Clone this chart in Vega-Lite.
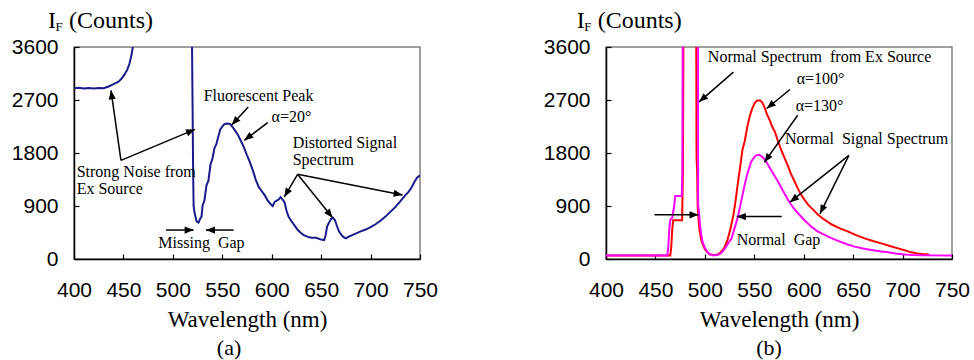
{
  "$schema": "https://vega.github.io/schema/vega-lite/v6.json",
  "padding": {"left": 10, "top": 8, "right": 0, "bottom": 0},
  "spacing": 103,
  "config": {
    "font": "Liberation Serif",
    "view": {"stroke": "#808080", "strokeWidth": 1.5},
    "axis": {
      "grid": false,
      "domainColor": "black",
      "domainWidth": 1.5,
      "tickColor": "black",
      "tickWidth": 1.2,
      "tickSize": -5,
      "labelFont": "Liberation Sans",
      "labelFontSize": 21,
      "labelColor": "black",
      "labelFlush": false,
      "labelOverlap": false,
      "titleFont": "Liberation Serif",
      "titleFontSize": 23,
      "titleFontWeight": "normal",
      "titleColor": "black"
    }
  },
  "datasets": {
    "specA": [
      {"x": 400, "y": 2900}, {"x": 405, "y": 2906}, {"x": 410, "y": 2894}, {"x": 415, "y": 2902}, {"x": 420, "y": 2896}, {"x": 425, "y": 2904}, {"x": 430, "y": 2900},
      {"x": 435, "y": 2930}, {"x": 440, "y": 2970}, {"x": 445, "y": 3010}, {"x": 448, "y": 3060}, {"x": 451, "y": 3130}, {"x": 454, "y": 3220},
      {"x": 456, "y": 3310}, {"x": 458, "y": 3450}, {"x": 459.5, "y": 3600}, {"x": 461, "y": 4300}, {"x": 518, "y": 4300},
      {"x": 519.4, "y": 3600}, {"x": 520, "y": 2500}, {"x": 520.5, "y": 1500}, {"x": 521, "y": 900}, {"x": 522, "y": 780},
      {"x": 524, "y": 640}, {"x": 526, "y": 620}, {"x": 527.5, "y": 680}, {"x": 529, "y": 720}, {"x": 530, "y": 900}, {"x": 532, "y": 1000},
      {"x": 534, "y": 1250}, {"x": 536, "y": 1330}, {"x": 538, "y": 1600}, {"x": 540, "y": 1700}, {"x": 542, "y": 1880}, {"x": 544, "y": 1950},
      {"x": 546, "y": 2080}, {"x": 548, "y": 2200}, {"x": 550, "y": 2250}, {"x": 552, "y": 2290}, {"x": 555, "y": 2300}, {"x": 558, "y": 2290},
      {"x": 560, "y": 2250}, {"x": 563, "y": 2180}, {"x": 566, "y": 2100}, {"x": 569, "y": 2000}, {"x": 572, "y": 1890}, {"x": 575, "y": 1760},
      {"x": 578, "y": 1640}, {"x": 581, "y": 1500}, {"x": 584, "y": 1340}, {"x": 587, "y": 1220}, {"x": 590, "y": 1150}, {"x": 593, "y": 1080},
      {"x": 596, "y": 990}, {"x": 599, "y": 930}, {"x": 601, "y": 900}, {"x": 603, "y": 970}, {"x": 605, "y": 990}, {"x": 607, "y": 1010},
      {"x": 609, "y": 1050}, {"x": 611, "y": 1010}, {"x": 613, "y": 960}, {"x": 615, "y": 820}, {"x": 617, "y": 720}, {"x": 620, "y": 640},
      {"x": 623, "y": 570}, {"x": 626, "y": 500}, {"x": 629, "y": 450}, {"x": 632, "y": 410}, {"x": 636, "y": 380}, {"x": 640, "y": 360},
      {"x": 645, "y": 360}, {"x": 650, "y": 330}, {"x": 653, "y": 320}, {"x": 654.5, "y": 400}, {"x": 656, "y": 550}, {"x": 658, "y": 620},
      {"x": 660, "y": 680}, {"x": 662, "y": 700}, {"x": 664, "y": 660}, {"x": 666, "y": 560}, {"x": 668, "y": 470}, {"x": 670, "y": 420},
      {"x": 672, "y": 380}, {"x": 675, "y": 350}, {"x": 678, "y": 380}, {"x": 682, "y": 410}, {"x": 686, "y": 440}, {"x": 690, "y": 470},
      {"x": 695, "y": 500}, {"x": 700, "y": 540}, {"x": 705, "y": 590}, {"x": 710, "y": 650}, {"x": 715, "y": 720}, {"x": 720, "y": 800},
      {"x": 725, "y": 880}, {"x": 730, "y": 980}, {"x": 735, "y": 1080}, {"x": 738, "y": 1130}, {"x": 741, "y": 1200}, {"x": 744, "y": 1300},
      {"x": 747, "y": 1380}, {"x": 750, "y": 1420}
    ],
    "specB": [
      {"s": "a100", "x": 400, "y": 60}, {"s": "a100", "x": 465, "y": 60}, {"s": "a100", "x": 466, "y": 200}, {"s": "a100", "x": 467, "y": 500},
      {"s": "a100", "x": 468, "y": 660}, {"s": "a100", "x": 477, "y": 660}, {"s": "a100", "x": 477.8, "y": 1500}, {"s": "a100", "x": 478.3, "y": 3600},
      {"s": "a100", "x": 478.8, "y": 9000}, {"s": "a100", "x": 491, "y": 9000}, {"s": "a100", "x": 491.3, "y": 3600}, {"s": "a100", "x": 491.6, "y": 1714},
      {"s": "a100", "x": 492.2, "y": 1500}, {"s": "a100", "x": 492.7, "y": 900}, {"s": "a100", "x": 493.5, "y": 700}, {"s": "a100", "x": 494.5, "y": 500},
      {"s": "a100", "x": 496, "y": 350}, {"s": "a100", "x": 498, "y": 240}, {"s": "a100", "x": 500, "y": 170}, {"s": "a100", "x": 502, "y": 120},
      {"s": "a100", "x": 505, "y": 80}, {"s": "a100", "x": 508, "y": 70}, {"s": "a100", "x": 511, "y": 70}, {"s": "a100", "x": 514, "y": 85},
      {"s": "a100", "x": 517, "y": 130}, {"s": "a100", "x": 520, "y": 200}, {"s": "a100", "x": 523, "y": 330}, {"s": "a100", "x": 526, "y": 520},
      {"s": "a100", "x": 529, "y": 760}, {"s": "a100", "x": 531, "y": 980}, {"s": "a100", "x": 533.5, "y": 1300}, {"s": "a100", "x": 536, "y": 1600},
      {"s": "a100", "x": 538, "y": 1850}, {"s": "a100", "x": 540.3, "y": 2000}, {"s": "a100", "x": 543, "y": 2250}, {"s": "a100", "x": 545, "y": 2400},
      {"s": "a100", "x": 547, "y": 2510}, {"s": "a100", "x": 549, "y": 2600}, {"s": "a100", "x": 551, "y": 2660}, {"s": "a100", "x": 553, "y": 2690},
      {"s": "a100", "x": 556, "y": 2690}, {"s": "a100", "x": 558, "y": 2660}, {"s": "a100", "x": 560.6, "y": 2566}, {"s": "a100", "x": 563, "y": 2450},
      {"s": "a100", "x": 566, "y": 2340}, {"s": "a100", "x": 568, "y": 2250}, {"s": "a100", "x": 570.6, "y": 2169}, {"s": "a100", "x": 574, "y": 2000},
      {"s": "a100", "x": 577, "y": 1860}, {"s": "a100", "x": 580.7, "y": 1714}, {"s": "a100", "x": 584, "y": 1580}, {"s": "a100", "x": 587, "y": 1450},
      {"s": "a100", "x": 590.8, "y": 1317}, {"s": "a100", "x": 594, "y": 1200}, {"s": "a100", "x": 597, "y": 1100}, {"s": "a100", "x": 600.9, "y": 1005},
      {"s": "a100", "x": 605, "y": 910}, {"s": "a100", "x": 610, "y": 830}, {"s": "a100", "x": 614.5, "y": 750}, {"s": "a100", "x": 620, "y": 680},
      {"s": "a100", "x": 628, "y": 590}, {"s": "a100", "x": 636, "y": 525}, {"s": "a100", "x": 644.9, "y": 465}, {"s": "a100", "x": 653, "y": 405},
      {"s": "a100", "x": 661.7, "y": 351}, {"s": "a100", "x": 670, "y": 305}, {"s": "a100", "x": 678.6, "y": 266}, {"s": "a100", "x": 687, "y": 222},
      {"s": "a100", "x": 695.4, "y": 181}, {"s": "a100", "x": 702, "y": 148}, {"s": "a100", "x": 708.9, "y": 113}, {"s": "a100", "x": 715, "y": 95},
      {"s": "a100", "x": 720, "y": 85}, {"s": "a100", "x": 725.7, "y": 78}, {"s": "a100", "x": 727, "y": 70},
      {"s": "a130", "x": 400, "y": 60}, {"s": "a130", "x": 462, "y": 60}, {"s": "a130", "x": 463, "y": 200}, {"s": "a130", "x": 464, "y": 500},
      {"s": "a130", "x": 465, "y": 664}, {"s": "a130", "x": 467, "y": 700}, {"s": "a130", "x": 469, "y": 900}, {"s": "a130", "x": 470, "y": 1070},
      {"s": "a130", "x": 476.7, "y": 1073}, {"s": "a130", "x": 477.2, "y": 1500}, {"s": "a130", "x": 477.6, "y": 3600}, {"s": "a130", "x": 478, "y": 9000},
      {"s": "a130", "x": 492.8, "y": 9000}, {"s": "a130", "x": 493, "y": 3600}, {"s": "a130", "x": 493.2, "y": 920}, {"s": "a130", "x": 494, "y": 800},
      {"s": "a130", "x": 495, "y": 600}, {"s": "a130", "x": 496, "y": 450}, {"s": "a130", "x": 497.5, "y": 300}, {"s": "a130", "x": 499, "y": 230},
      {"s": "a130", "x": 501, "y": 160}, {"s": "a130", "x": 503, "y": 110}, {"s": "a130", "x": 505, "y": 78}, {"s": "a130", "x": 508, "y": 65},
      {"s": "a130", "x": 511, "y": 65}, {"s": "a130", "x": 514, "y": 75}, {"s": "a130", "x": 517, "y": 110}, {"s": "a130", "x": 520, "y": 170},
      {"s": "a130", "x": 523, "y": 250}, {"s": "a130", "x": 527, "y": 351}, {"s": "a130", "x": 530, "y": 520}, {"s": "a130", "x": 533.5, "y": 721},
      {"s": "a130", "x": 537, "y": 1000}, {"s": "a130", "x": 540.3, "y": 1261}, {"s": "a130", "x": 543, "y": 1450}, {"s": "a130", "x": 547, "y": 1658},
      {"s": "a130", "x": 550, "y": 1730}, {"s": "a130", "x": 552, "y": 1760}, {"s": "a130", "x": 555, "y": 1770}, {"s": "a130", "x": 557, "y": 1750},
      {"s": "a130", "x": 560, "y": 1700}, {"s": "a130", "x": 563.9, "y": 1601}, {"s": "a130", "x": 568, "y": 1480}, {"s": "a130", "x": 574, "y": 1317},
      {"s": "a130", "x": 579, "y": 1160}, {"s": "a130", "x": 584.1, "y": 1005}, {"s": "a130", "x": 589, "y": 880}, {"s": "a130", "x": 594.2, "y": 777},
      {"s": "a130", "x": 600, "y": 670}, {"s": "a130", "x": 607.7, "y": 550}, {"s": "a130", "x": 614, "y": 470}, {"s": "a130", "x": 621.2, "y": 409},
      {"s": "a130", "x": 628, "y": 355}, {"s": "a130", "x": 634.7, "y": 307}, {"s": "a130", "x": 643, "y": 255}, {"s": "a130", "x": 651.5, "y": 210},
      {"s": "a130", "x": 660, "y": 178}, {"s": "a130", "x": 668.4, "y": 153}, {"s": "a130", "x": 677, "y": 130}, {"s": "a130", "x": 685.3, "y": 113},
      {"s": "a130", "x": 693, "y": 95}, {"s": "a130", "x": 702.1, "y": 78}, {"s": "a130", "x": 710, "y": 68}, {"s": "a130", "x": 720, "y": 63},
      {"s": "a130", "x": 752, "y": 60}
    ],
    "arrowsA": [
      {"x": 447.5, "y": 1675, "x2": 437.4, "y2": 2864},
      {"x": 447.5, "y": 1675, "x2": 522.4, "y2": 2202},
      {"x": 576.3, "y": 2581, "x2": 559.5, "y2": 2275},
      {"x": 595.9, "y": 2315, "x2": 572.3, "y2": 2015},
      {"x": 626.2, "y": 1438, "x2": 612.7, "y2": 1053},
      {"x": 626.2, "y": 1438, "x2": 661.6, "y2": 702},
      {"x": 626.2, "y": 1438, "x2": 732.4, "y2": 1087},
      {"x": 493.1, "y": 492, "x2": 521, "y2": 492},
      {"x": 561.5, "y": 492, "x2": 533.5, "y2": 492}
    ],
    "arrowsB": [
      {"x": 528.9, "y": 3174, "x2": 494.2, "y2": 2669},
      {"x": 586.1, "y": 2879, "x2": 562.6, "y2": 2555},
      {"x": 593.9, "y": 2442, "x2": 560.2, "y2": 1641},
      {"x": 645.7, "y": 1760, "x2": 586.1, "y2": 965},
      {"x": 645.7, "y": 1760, "x2": 616.4, "y2": 767},
      {"x": 449.1, "y": 750, "x2": 493.6, "y2": 750},
      {"x": 577.7, "y": 721, "x2": 532.3, "y2": 721}
    ],
    "notesA": [
      {"x": 402.7, "y": 1398, "label": "Strong Noise from"},
      {"x": 402.7, "y": 1098, "label": "Ex Source"},
      {"x": 531.2, "y": 2683, "label": "Fluorescent Peak"},
      {"x": 599.9, "y": 2326, "label": "α=20°"},
      {"x": 621.2, "y": 1890, "label": "Distorted Signal"},
      {"x": 621.2, "y": 1590, "label": "Spectrum"},
      {"x": 485.3, "y": 181, "label": "Missing\u00a0 Gap"}
    ],
    "notesB": [
      {"x": 503, "y": 3344, "label": "Normal Spectrum\u00a0 from Ex Source"},
      {"x": 592.9, "y": 2975, "label": "α=100°"},
      {"x": 591.9, "y": 2521, "label": "α=130°"},
      {"x": 581.1, "y": 1953, "label": "Normal\u00a0 Signal Spectrum"},
      {"x": 532.3, "y": 238, "label": "Normal\u00a0 Gap"}
    ]
  },
  "hconcat": [
    {
      "width": 346,
      "height": 212,
      "layer": [
        {
          "data": {"name": "specA"},
          "mark": {"type": "line", "color": "#1a1a8c", "strokeWidth": 2, "clip": true},
          "encoding": {
            "x": {"field": "x", "type": "quantitative", "scale": {"domain": [400, 750], "nice": false, "zero": false},
                  "axis": {"values": [400, 450, 500, 550, 600, 650, 700, 750], "format": "d", "labelPadding": 25, "title": "Wavelength (nm)", "titleFont": "Liberation Serif", "titlePadding": 8}},
            "y": {"field": "y", "type": "quantitative", "scale": {"domain": [0, 3600], "nice": false},
                  "axis": {"values": [0, 900, 1800, 2700, 3600], "format": "d", "labelPadding": 21, "title": null}}
          }
        },
        {
          "data": {"name": "arrowsA"},
          "mark": {"type": "rule", "color": "black", "strokeWidth": 1.5},
          "encoding": {
            "x": {"field": "x", "type": "quantitative"},
            "y": {"field": "y", "type": "quantitative"},
            "x2": {"field": "x2"},
            "y2": {"field": "y2"}
          }
        },
        {
          "data": {"name": "arrowsA"},
          "transform": [{"calculate": "atan2((datum.x2-datum.x)*346/350, (datum.y2-datum.y)*212/3600)*180/PI", "as": "ang"}],
          "mark": {"type": "point", "shape": "M0,0L-0.4,1L0.4,1Z", "size": 324, "filled": true, "color": "black", "opacity": 1, "strokeWidth": 0},
          "encoding": {
            "x": {"field": "x2", "type": "quantitative"},
            "y": {"field": "y2", "type": "quantitative"},
            "angle": {"field": "ang", "type": "quantitative", "scale": null}
          }
        },
        {
          "data": {"name": "notesA"},
          "mark": {"type": "text", "align": "left", "baseline": "alphabetic", "font": "Liberation Serif", "fontSize": 16, "color": "black"},
          "encoding": {
            "x": {"field": "x", "type": "quantitative"},
            "y": {"field": "y", "type": "quantitative"},
            "text": {"field": "label"}
          }
        },
        {
          "data": {"values": [{"x": 373.7, "y": 3923, "label": "I"}, {"x": 394.9, "y": 3923, "label": "(Counts)"}]},
          "mark": {"type": "text", "align": "left", "baseline": "alphabetic", "font": "Liberation Serif", "fontSize": 24, "color": "black"},
          "encoding": {
            "x": {"field": "x", "type": "quantitative"},
            "y": {"field": "y", "type": "quantitative"},
            "text": {"field": "label"}
          }
        },
        {
          "data": {"values": [{"x": 381.2, "y": 3880, "label": "F"}]},
          "mark": {"type": "text", "align": "left", "baseline": "alphabetic", "font": "Liberation Serif", "fontSize": 13, "color": "black"},
          "encoding": {
            "x": {"field": "x", "type": "quantitative"},
            "y": {"field": "y", "type": "quantitative"},
            "text": {"field": "label"}
          }
        },
        {
          "data": {"values": [{"x": 556.8, "y": -1630, "label": "(a)"}]},
          "mark": {"type": "text", "align": "center", "baseline": "alphabetic", "font": "Liberation Serif", "fontSize": 22, "color": "black"},
          "encoding": {
            "x": {"field": "x", "type": "quantitative"},
            "y": {"field": "y", "type": "quantitative"},
            "text": {"field": "label"}
          }
        }
      ]
    },
    {
      "width": 346,
      "height": 212,
      "layer": [
        {
          "data": {"name": "specB"},
          "mark": {"type": "line", "strokeWidth": 2, "clip": true},
          "encoding": {
            "x": {"field": "x", "type": "quantitative", "scale": {"domain": [400, 750], "nice": false, "zero": false},
                  "axis": {"values": [400, 450, 500, 550, 600, 650, 700, 750], "format": "d", "labelPadding": 25, "title": "Wavelength (nm)", "titleFont": "Liberation Serif", "titlePadding": 8}},
            "y": {"field": "y", "type": "quantitative", "scale": {"domain": [0, 3600], "nice": false},
                  "axis": {"values": [0, 900, 1800, 2700, 3600], "format": "d", "labelPadding": 21, "title": null}},
            "color": {"field": "s", "type": "nominal", "scale": {"domain": ["a100", "a130"], "range": ["#ff0000", "#ff00ff"]}, "legend": null}
          }
        },
        {
          "data": {"name": "arrowsB"},
          "mark": {"type": "rule", "color": "black", "strokeWidth": 1.5},
          "encoding": {
            "x": {"field": "x", "type": "quantitative"},
            "y": {"field": "y", "type": "quantitative"},
            "x2": {"field": "x2"},
            "y2": {"field": "y2"}
          }
        },
        {
          "data": {"name": "arrowsB"},
          "transform": [{"calculate": "atan2((datum.x2-datum.x)*346/350, (datum.y2-datum.y)*212/3600)*180/PI", "as": "ang"}],
          "mark": {"type": "point", "shape": "M0,0L-0.4,1L0.4,1Z", "size": 324, "filled": true, "color": "black", "opacity": 1, "strokeWidth": 0},
          "encoding": {
            "x": {"field": "x2", "type": "quantitative"},
            "y": {"field": "y2", "type": "quantitative"},
            "angle": {"field": "ang", "type": "quantitative", "scale": null}
          }
        },
        {
          "data": {"name": "notesB"},
          "mark": {"type": "text", "align": "left", "baseline": "alphabetic", "font": "Liberation Serif", "fontSize": 16, "color": "black"},
          "encoding": {
            "x": {"field": "x", "type": "quantitative"},
            "y": {"field": "y", "type": "quantitative"},
            "text": {"field": "label"}
          }
        },
        {
          "data": {"values": [{"x": 370.4, "y": 3923, "label": "I"}, {"x": 391.6, "y": 3923, "label": "(Counts)"}]},
          "mark": {"type": "text", "align": "left", "baseline": "alphabetic", "font": "Liberation Serif", "fontSize": 24, "color": "black"},
          "encoding": {
            "x": {"field": "x", "type": "quantitative"},
            "y": {"field": "y", "type": "quantitative"},
            "text": {"field": "label"}
          }
        },
        {
          "data": {"values": [{"x": 377.9, "y": 3880, "label": "F"}]},
          "mark": {"type": "text", "align": "left", "baseline": "alphabetic", "font": "Liberation Serif", "fontSize": 13, "color": "black"},
          "encoding": {
            "x": {"field": "x", "type": "quantitative"},
            "y": {"field": "y", "type": "quantitative"},
            "text": {"field": "label"}
          }
        },
        {
          "data": {"values": [{"x": 565, "y": -1630, "label": "(b)"}]},
          "mark": {"type": "text", "align": "center", "baseline": "alphabetic", "font": "Liberation Serif", "fontSize": 22, "color": "black"},
          "encoding": {
            "x": {"field": "x", "type": "quantitative"},
            "y": {"field": "y", "type": "quantitative"},
            "text": {"field": "label"}
          }
        }
      ]
    }
  ]
}
